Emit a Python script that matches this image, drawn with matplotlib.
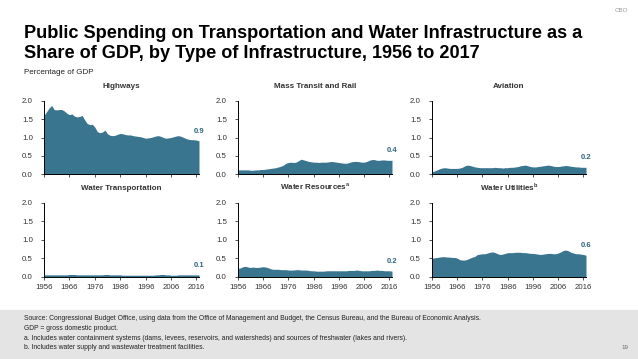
import numpy as np
import matplotlib.pyplot as plt

plt.rcParams['font.family'] = ['Liberation Sans', 'DejaVu Sans']
plt.rcParams['mathtext.fontset'] = 'custom'
plt.rcParams['mathtext.bf'] = 'Liberation Sans:bold'

years = np.arange(1956, 2018)

highways = [1.60, 1.70, 1.80, 1.87, 1.76, 1.75, 1.76, 1.76, 1.72, 1.66,
            1.62, 1.64, 1.58, 1.56, 1.57, 1.60, 1.48, 1.38, 1.35, 1.36,
            1.28, 1.16, 1.13, 1.15, 1.20, 1.10, 1.06, 1.05, 1.06, 1.09,
            1.11, 1.10, 1.08, 1.07, 1.07, 1.05, 1.04, 1.03, 1.02, 1.00,
            0.98, 0.99, 1.00, 1.02, 1.04, 1.05, 1.03, 1.00, 0.98, 0.99,
            1.00, 1.02, 1.04, 1.05, 1.03, 1.00, 0.97, 0.95, 0.94, 0.94,
            0.93, 0.91]
mass_transit = [0.12, 0.12, 0.12, 0.12, 0.12, 0.11, 0.11, 0.12, 0.12, 0.13,
                0.13, 0.14, 0.15, 0.16, 0.17, 0.18, 0.20, 0.22, 0.25, 0.30,
                0.32, 0.33, 0.32, 0.33, 0.37, 0.41, 0.39, 0.37, 0.35, 0.34,
                0.33, 0.33, 0.32, 0.33, 0.33, 0.33, 0.34, 0.35, 0.34, 0.33,
                0.32, 0.31, 0.30, 0.30, 0.32, 0.34, 0.35, 0.35, 0.34, 0.33,
                0.33, 0.35, 0.38, 0.40, 0.40, 0.38, 0.38, 0.39, 0.39, 0.38,
                0.38, 0.38]
aviation = [0.07, 0.09, 0.12, 0.15, 0.17, 0.18, 0.17, 0.16, 0.16, 0.16,
            0.16, 0.17, 0.19, 0.23, 0.25, 0.24, 0.22, 0.20, 0.19, 0.18,
            0.18, 0.18, 0.18, 0.18, 0.18, 0.19, 0.18, 0.18, 0.17, 0.18,
            0.18, 0.19, 0.19, 0.20, 0.21, 0.23, 0.24, 0.25, 0.23, 0.21,
            0.20, 0.20, 0.21, 0.22, 0.23, 0.24, 0.25, 0.24, 0.22, 0.21,
            0.21, 0.22, 0.23, 0.24, 0.23, 0.22, 0.21, 0.20, 0.20, 0.19,
            0.19, 0.19]
water_transport = [0.05, 0.05, 0.05, 0.05, 0.05, 0.05, 0.05, 0.05, 0.05, 0.05,
                   0.06, 0.06, 0.06, 0.05, 0.05, 0.05, 0.05, 0.05, 0.05, 0.05,
                   0.05, 0.05, 0.05, 0.05, 0.06, 0.06, 0.05, 0.05, 0.05, 0.05,
                   0.05, 0.04, 0.04, 0.04, 0.04, 0.04, 0.04, 0.04, 0.04, 0.04,
                   0.04, 0.04, 0.04, 0.04, 0.05, 0.05, 0.06, 0.06, 0.05, 0.05,
                   0.04, 0.04, 0.04, 0.05, 0.05, 0.05, 0.05, 0.05, 0.05, 0.05,
                   0.05, 0.05]
water_resources = [0.22, 0.24, 0.27, 0.28, 0.26, 0.25, 0.26, 0.25, 0.25, 0.26,
                   0.27, 0.26, 0.24, 0.21, 0.20, 0.20, 0.20, 0.19, 0.19, 0.19,
                   0.18, 0.18, 0.18, 0.19, 0.19, 0.18, 0.18, 0.18, 0.17, 0.16,
                   0.16, 0.15, 0.15, 0.15, 0.15, 0.16, 0.16, 0.16, 0.16, 0.16,
                   0.16, 0.16, 0.16, 0.16, 0.17, 0.17, 0.17, 0.18, 0.17, 0.16,
                   0.16, 0.16, 0.16, 0.17, 0.17, 0.18, 0.17, 0.17, 0.16, 0.16,
                   0.16, 0.15]
water_utilities = [0.50, 0.51, 0.52, 0.53, 0.54, 0.54, 0.53, 0.53, 0.52, 0.52,
                   0.50, 0.46, 0.45, 0.45, 0.47, 0.50, 0.53, 0.55, 0.60, 0.61,
                   0.62, 0.62, 0.64, 0.66, 0.67, 0.65, 0.62, 0.60, 0.61, 0.63,
                   0.65, 0.65, 0.65, 0.66, 0.66, 0.66, 0.65, 0.65, 0.64, 0.63,
                   0.63, 0.62, 0.61, 0.60, 0.61, 0.62, 0.63, 0.63, 0.62, 0.62,
                   0.64, 0.67, 0.71, 0.72, 0.70, 0.66, 0.64, 0.62, 0.62, 0.61,
                   0.60, 0.58]

panels = [("Highways", highways, "0.9"),
          ("Mass Transit and Rail", mass_transit, "0.4"),
          ("Aviation", aviation, "0.2"),
          ("Water Transportation", water_transport, "0.1"),
          ("Water Resources$^{\\mathbf{a}}$", water_resources, "0.2"),
          ("Water Utilities$^{\\mathbf{b}}$", water_utilities, "0.6")]

fill_color = '#3a7590'
W, H = 638, 359
fig = plt.figure(figsize=(W / 100, H / 100), dpi=100)

# footer band
fig.patches.append(plt.Rectangle((0, 0), 1, 1 - 310 / H, transform=fig.transFigure,
                                 color='#e4e4e4', zorder=0))

lefts = [44, 238, 432]
rights = [199, 392, 586]
tops = [100.7, 202.7]
bottoms = [174.3, 276.7]

for i, (name, vals, lab) in enumerate(panels):
    r, c = divmod(i, 3)
    ax = fig.add_axes([lefts[c] / W, 1 - bottoms[r] / H,
                       (rights[c] - lefts[c]) / W, (bottoms[r] - tops[r]) / H])
    ax.fill_between(years, vals, 0, color=fill_color, lw=0)
    ax.set_xlim(1956, 2017)
    ax.set_ylim(0, 2.0)
    ax.set_yticks([0, 0.5, 1.0, 1.5, 2.0])
    ax.set_yticklabels(['0.0', '0.5', '1.0', '1.5', '2.0'])
    ax.set_xticks(range(1956, 2017, 10))
    if r == 1:
        ax.set_xticklabels([str(y) for y in range(1956, 2017, 10)])
    else:
        ax.set_xticklabels([])
    ax.tick_params(labelsize=5.7, colors='#333333', length=2, width=0.6, pad=6)
    ax.tick_params(axis='x', pad=3)
    for s in ['top', 'right']:
        ax.spines[s].set_visible(False)
    for s in ['left', 'bottom']:
        ax.spines[s].set_linewidth(0.7)
    ax.set_title(name, fontsize=5.8, fontweight='bold', color='#333333', pad=9)
    ax.annotate(lab, (years[-1], vals[-1]), xytext=(0, 4.5), textcoords='offset points',
                ha='center', va='bottom', fontsize=5.5, fontweight='bold', color='#2f6680')

fig.text(24 / W, 1 - 25 / H, "Public Spending on Transportation and Water Infrastructure as a\n"
         "Share of GDP, by Type of Infrastructure, 1956 to 2017",
         fontsize=13.1, fontweight='bold', va='top', ha='left', linespacing=1.22)
fig.text(24 / W, 1 - 73 / H, "Percentage of GDP", fontsize=5.8, va='center', color='#222222')
fig.text(628 / W, 1 - 10 / H, "CBO", fontsize=4.5, color='#999999', ha='right', va='center')

foot = ["Source: Congressional Budget Office, using data from the Office of Management and Budget, the Census Bureau, and the Bureau of Economic Analysis.",
        "GDP = gross domestic product.",
        "a. Includes water containment systems (dams, levees, reservoirs, and watersheds) and sources of freshwater (lakes and rivers).",
        "b. Includes water supply and wastewater treatment facilities."]
for k, line in enumerate(foot):
    fig.text(24 / W, 1 - (319 + 9.5 * k) / H, line, fontsize=4.9, va='center', color='#222222')
fig.text(628 / W, 1 - 347.5 / H, "19", fontsize=4.5, color='#666666', ha='right', va='center')

fig.savefig('out.png', dpi=100)
